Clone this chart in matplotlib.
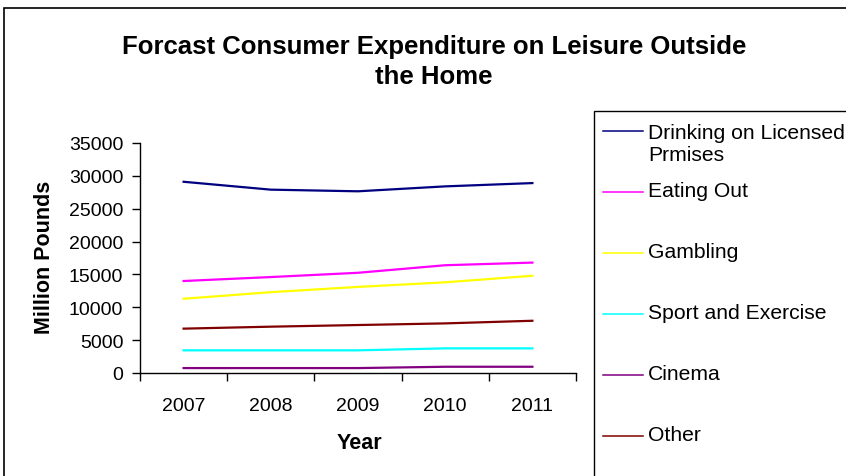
import matplotlib
matplotlib.use("Agg")
import matplotlib.pyplot as plt
from matplotlib.patches import Rectangle
from matplotlib.lines import Line2D

plt.rcParams["font.family"] = ["Liberation Sans", "DejaVu Sans"]

years = ["2007", "2008", "2009", "2010", "2011"]
series_names = ["Drinking on Licensed\nPrmises", "Eating Out", "Gambling",
                "Sport and Exercise", "Cinema", "Other"]
drinking = [29100, 27900, 27650, 28400, 28900]
eating_out = [14000, 14600, 15250, 16400, 16800]
gambling = [11300, 12300, 13100, 13800, 14800]
sport = [3450, 3450, 3450, 3750, 3750]
cinema = [750, 750, 750, 950, 950]
other = [6750, 7050, 7300, 7550, 7950]
series_values = [drinking, eating_out, gambling, sport, cinema, other]
series_colors = ["#000080", "#FF00FF", "#FFFF00", "#00FFFF", "#800080", "#800000"]

W, H = 846, 477
fig = plt.figure(figsize=(W / 100, H / 100), dpi=100)

def fx(px):
    return px / W

def fy(py):
    return 1 - py / H

# plot area: x 140..576, y 144..374 (pixels)
ax = fig.add_axes([fx(140), fy(374), fx(576) - fx(140), fy(144) - fy(374)])
xpos = [i + 0.5 for i in range(len(years))]
for vals, col in zip(series_values, series_colors):
    ax.plot(xpos, vals, color=col, lw=1.6, solid_joinstyle="round")

ax.set_xlim(0, len(years))
ax.set_ylim(0, 35000)
ax.set_yticks(range(0, 35001, 5000))
ax.set_xticks(range(0, len(years) + 1))
ax.set_xticklabels([])
ax.set_xticks(xpos, minor=True)
ax.set_xticklabels(years, minor=True, fontsize=14)
ax.tick_params(axis="x", which="minor", length=0, pad=17)
ax.tick_params(axis="x", which="major", direction="out", length=6, width=1)
ax.tick_params(axis="y", direction="out", length=6, width=1, labelsize=14, pad=6)
for s in ["top", "right"]:
    ax.spines[s].set_visible(False)
for s in ["left", "bottom"]:
    ax.spines[s].set_linewidth(1)
    ax.spines[s].set_color("black")

fig.text(fx(359), fy(444), "Year", ha="center", va="center",
         fontsize=15.5, fontweight="bold")
fig.text(fx(45), fy(257), "Million Pounds", ha="center", va="center",
         rotation=90, fontsize=15.5, fontweight="bold")
fig.text(fx(434), fy(62), "Forcast Consumer Expenditure on Leisure Outside\nthe Home",
         ha="center", va="center", fontsize=18.5, fontweight="bold", linespacing=1.3)

# outer chart border
fig.add_artist(Rectangle((fx(4), fy(H + 20)), fx(W + 20) - fx(4), fy(9) - fy(H + 20),
                         transform=fig.transFigure, fill=False, edgecolor="black", lw=1.2))

# legend box and entries
legend_fs = 15.2
legend_ls = 1.2
line_step = legend_fs * legend_ls * 100 / 72
fig.add_artist(Rectangle((fx(594), fy(H + 20)), fx(W + 20) - fx(594), fy(112) - fy(H + 20),
                         transform=fig.transFigure, fill=False, edgecolor="black", lw=1))
for i, (name, col) in enumerate(zip(series_names, series_colors)):
    yy = 132 + 61 * i
    fig.add_artist(Line2D([fx(603), fx(643)], [fy(yy), fy(yy)],
                          transform=fig.transFigure, color=col, lw=1.1))
    extra = name.count("\n") * line_step
    fig.text(fx(648), fy(yy + 4 + extra), name, ha="left", va="baseline",
             fontsize=legend_fs, linespacing=legend_ls)

fig.savefig("out.png", dpi=100)
